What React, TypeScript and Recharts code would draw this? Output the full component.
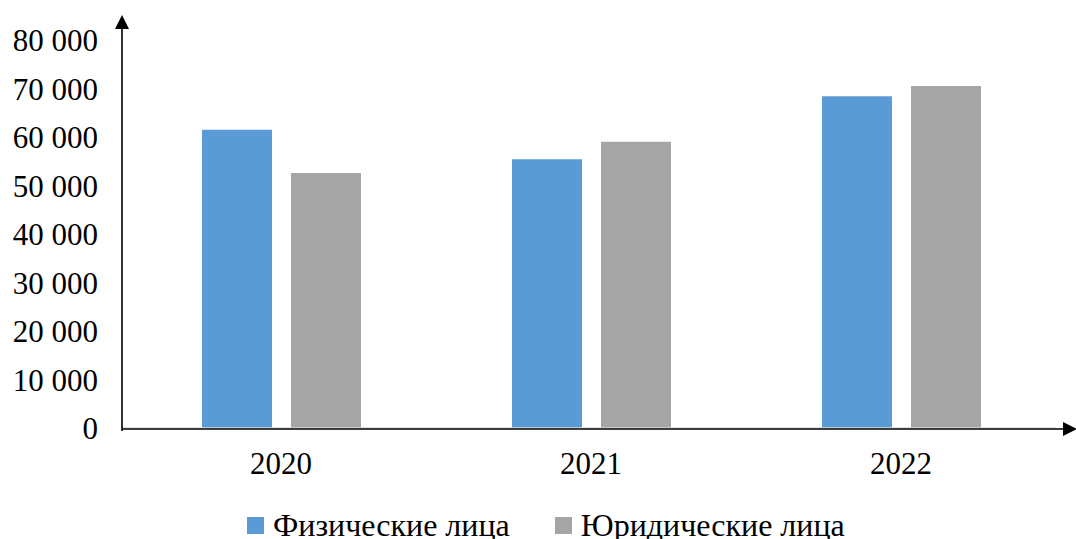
import React from 'react';
import { BarChart, Bar, XAxis, YAxis, Legend } from 'recharts';

const years = ['2020', '2021', '2022'];
const individuals = [61500, 55400, 68400]; // Физические лица
const legalEntities = [52600, 59000, 70500]; // Юридические лица
const yTicks = [0, 10000, 20000, 30000, 40000, 50000, 60000, 70000, 80000];

const seriesNames = ['Физические лица', 'Юридические лица'];
const colors = ['#5B9BD5', '#A5A5A5'];

const data = years.map((year, i) => ({
  year,
  individuals: individuals[i],
  legal: legalEntities[i],
}));

const W = 1076;
const H = 539;
const FONT = '"Liberation Serif", "Times New Roman", serif';
const AXIS_X = 122;
const AXIS_Y = 429;

const fmt = (v: number) => (v === 0 ? '0' : v.toLocaleString('en-US').replace(/,/g, ' '));

const LegendContent = () => (
  <div style={{ display: 'flex', alignItems: 'center', paddingLeft: 247, paddingTop: 21, fontFamily: FONT, fontSize: 32, color: '#000' }}>
    {seriesNames.map((name, i) => (
      <div key={name} style={{ display: 'flex', alignItems: 'center', marginRight: 45 }}>
        <span style={{ width: 17, height: 17, background: colors[i], display: 'inline-block', marginRight: 9 }} />
        <span style={{ lineHeight: '32px' }}>{name}</span>
      </div>
    ))}
  </div>
);

const App: React.FC = () => {
  return (
    <div style={{ position: 'absolute', left: 0, top: 0, width: W, height: H, background: '#fff' }}>
      <BarChart
        width={W}
        height={H}
        data={data}
        margin={{ top: 40, right: 20, left: 0, bottom: 0 }}
        barCategoryGap={76}
        barGap={19}
      >
        <XAxis
          dataKey="year"
          height={60}
          padding={{ left: 4, right: 0 }}
          axisLine={{ stroke: '#d9d9d9', strokeWidth: 1.5 }}
          tickLine={false}
          tickSize={0}
          tickMargin={24}
          tick={{ fill: '#000', fontSize: 31, fontFamily: FONT }}
        />
        <YAxis
          width={122}
          domain={[0, 80000]}
          ticks={yTicks}
          interval={0}
          axisLine={false}
          tickLine={false}
          tickSize={0}
          tickMargin={24}
          tickFormatter={fmt}
          tick={{ fill: '#000', fontSize: 31, fontFamily: FONT }}
        />
        <Legend verticalAlign="bottom" height={51} content={<LegendContent />} />
        <Bar dataKey="individuals" name={seriesNames[0]} fill={colors[0]} isAnimationActive={false} />
        <Bar dataKey="legal" name={seriesNames[1]} fill={colors[1]} isAnimationActive={false} />
      </BarChart>
      {/* axis arrows drawn on top */}
      <svg width={W} height={H} style={{ position: 'absolute', left: 0, top: 0, pointerEvents: 'none' }}>
        <line x1={AXIS_X} y1={AXIS_Y + 2} x2={AXIS_X} y2={26} stroke="#000" strokeWidth={1.6} />
        <polygon points={`${AXIS_X},15 ${AXIS_X - 7},29 ${AXIS_X + 7},29`} fill="#000" />
        <line x1={AXIS_X} y1={AXIS_Y} x2={1066} y2={AXIS_Y} stroke="#000" strokeWidth={1.6} />
        <polygon points={`1077,${AXIS_Y} 1063,${AXIS_Y - 7} 1063,${AXIS_Y + 7}`} fill="#000" />
      </svg>
    </div>
  );
};

export default App;
